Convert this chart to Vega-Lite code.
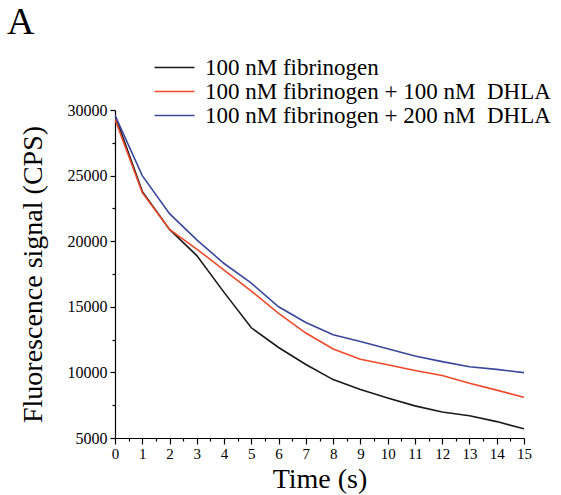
{
  "$schema": "https://vega.github.io/schema/vega-lite/v6.json",
  "autosize": "none",
  "width": 409,
  "height": 328,
  "padding": {"left": 115, "top": 110, "right": 37, "bottom": 57},
  "background": "white",
  "config": {
    "view": {"stroke": null},
    "font": "Liberation Serif"
  },
  "title": {
    "text": "A",
    "anchor": "start",
    "frame": "group",
    "orient": "top",
    "baseline": "alphabetic",
    "fontSize": 38,
    "fontWeight": "normal",
    "font": "Liberation Serif",
    "color": "#000",
    "dx": -108,
    "dy": 20
  },
  "data": {
    "values": [
      {"t": 0, "s": "100 nM fibrinogen", "v": 29600},
      {"t": 1, "s": "100 nM fibrinogen", "v": 23800},
      {"t": 2, "s": "100 nM fibrinogen", "v": 20900},
      {"t": 3, "s": "100 nM fibrinogen", "v": 18900},
      {"t": 4, "s": "100 nM fibrinogen", "v": 16100},
      {"t": 5, "s": "100 nM fibrinogen", "v": 13400},
      {"t": 6, "s": "100 nM fibrinogen", "v": 11900},
      {"t": 7, "s": "100 nM fibrinogen", "v": 10600},
      {"t": 8, "s": "100 nM fibrinogen", "v": 9450},
      {"t": 9, "s": "100 nM fibrinogen", "v": 8700},
      {"t": 10, "s": "100 nM fibrinogen", "v": 8050},
      {"t": 11, "s": "100 nM fibrinogen", "v": 7450},
      {"t": 12, "s": "100 nM fibrinogen", "v": 6980},
      {"t": 13, "s": "100 nM fibrinogen", "v": 6700},
      {"t": 14, "s": "100 nM fibrinogen", "v": 6250},
      {"t": 15, "s": "100 nM fibrinogen", "v": 5700},
      {"t": 0, "s": "100 nM fibrinogen + 100 nM\u00a0 DHLA", "v": 29300},
      {"t": 1, "s": "100 nM fibrinogen + 100 nM\u00a0 DHLA", "v": 23700},
      {"t": 2, "s": "100 nM fibrinogen + 100 nM\u00a0 DHLA", "v": 20900},
      {"t": 3, "s": "100 nM fibrinogen + 100 nM\u00a0 DHLA", "v": 19400},
      {"t": 4, "s": "100 nM fibrinogen + 100 nM\u00a0 DHLA", "v": 17800},
      {"t": 5, "s": "100 nM fibrinogen + 100 nM\u00a0 DHLA", "v": 16200},
      {"t": 6, "s": "100 nM fibrinogen + 100 nM\u00a0 DHLA", "v": 14500},
      {"t": 7, "s": "100 nM fibrinogen + 100 nM\u00a0 DHLA", "v": 13000},
      {"t": 8, "s": "100 nM fibrinogen + 100 nM\u00a0 DHLA", "v": 11780},
      {"t": 9, "s": "100 nM fibrinogen + 100 nM\u00a0 DHLA", "v": 11000},
      {"t": 10, "s": "100 nM fibrinogen + 100 nM\u00a0 DHLA", "v": 10580},
      {"t": 11, "s": "100 nM fibrinogen + 100 nM\u00a0 DHLA", "v": 10150},
      {"t": 12, "s": "100 nM fibrinogen + 100 nM\u00a0 DHLA", "v": 9760},
      {"t": 13, "s": "100 nM fibrinogen + 100 nM\u00a0 DHLA", "v": 9180},
      {"t": 14, "s": "100 nM fibrinogen + 100 nM\u00a0 DHLA", "v": 8650},
      {"t": 15, "s": "100 nM fibrinogen + 100 nM\u00a0 DHLA", "v": 8100},
      {"t": 0, "s": "100 nM fibrinogen + 200 nM\u00a0 DHLA", "v": 29600},
      {"t": 1, "s": "100 nM fibrinogen + 200 nM\u00a0 DHLA", "v": 25000},
      {"t": 2, "s": "100 nM fibrinogen + 200 nM\u00a0 DHLA", "v": 22100},
      {"t": 3, "s": "100 nM fibrinogen + 200 nM\u00a0 DHLA", "v": 20100},
      {"t": 4, "s": "100 nM fibrinogen + 200 nM\u00a0 DHLA", "v": 18300},
      {"t": 5, "s": "100 nM fibrinogen + 200 nM\u00a0 DHLA", "v": 16800},
      {"t": 6, "s": "100 nM fibrinogen + 200 nM\u00a0 DHLA", "v": 15000},
      {"t": 7, "s": "100 nM fibrinogen + 200 nM\u00a0 DHLA", "v": 13800},
      {"t": 8, "s": "100 nM fibrinogen + 200 nM\u00a0 DHLA", "v": 12870},
      {"t": 9, "s": "100 nM fibrinogen + 200 nM\u00a0 DHLA", "v": 12350},
      {"t": 10, "s": "100 nM fibrinogen + 200 nM\u00a0 DHLA", "v": 11800},
      {"t": 11, "s": "100 nM fibrinogen + 200 nM\u00a0 DHLA", "v": 11250},
      {"t": 12, "s": "100 nM fibrinogen + 200 nM\u00a0 DHLA", "v": 10820},
      {"t": 13, "s": "100 nM fibrinogen + 200 nM\u00a0 DHLA", "v": 10430},
      {"t": 14, "s": "100 nM fibrinogen + 200 nM\u00a0 DHLA", "v": 10230},
      {"t": 15, "s": "100 nM fibrinogen + 200 nM\u00a0 DHLA", "v": 9980}
    ]
  },
  "mark": {"type": "line", "strokeWidth": 1.6, "clip": true},
  "encoding": {
    "x": {
      "field": "t",
      "type": "quantitative",
      "scale": {"domain": [0, 15], "nice": false},
      "axis": {
        "title": "Time (s)",
        "titleFont": "Liberation Serif",
        "titleFontSize": 28,
        "titleFontWeight": "normal",
        "titleColor": "#000",
        "titlePadding": 4,
        "values": [0, 0.5, 1, 1.5, 2, 2.5, 3, 3.5, 4, 4.5, 5, 5.5, 6, 6.5, 7, 7.5, 8, 8.5, 9, 9.5, 10, 10.5, 11, 11.5, 12, 12.5, 13, 13.5, 14, 14.5, 15],
        "labelExpr": "datum.value % 1 === 0 ? format(datum.value, 'd') : ''",
        "labelFont": "Liberation Serif",
        "labelFontSize": 15,
        "labelColor": "#000",
        "labelPadding": 2,
        "labelFlush": false,
        "labelOverlap": false,
        "grid": false,
        "domainColor": "#000",
        "domainWidth": 1.2,
        "tickColor": "#000",
        "tickWidth": 1.2,
        "tickSize": {"condition": {"test": "datum.value % 1 === 0", "value": 6}, "value": 3}
      }
    },
    "y": {
      "field": "v",
      "type": "quantitative",
      "scale": {"domain": [5000, 30000], "nice": false, "zero": false},
      "axis": {
        "title": "Fluorescence signal (CPS)",
        "titleFont": "Liberation Serif",
        "titleFontSize": 28,
        "titleFontWeight": "normal",
        "titleColor": "#000",
        "titlePadding": 20,
        "values": [5000, 7500, 10000, 12500, 15000, 17500, 20000, 22500, 25000, 27500, 30000],
        "labelExpr": "datum.value % 5000 === 0 ? format(datum.value, 'd') : ''",
        "labelFont": "Liberation Serif",
        "labelFontSize": 16,
        "labelColor": "#000",
        "labelPadding": 3,
        "labelFlush": false,
        "labelOverlap": false,
        "grid": false,
        "domainColor": "#000",
        "domainWidth": 1.2,
        "tickColor": "#000",
        "tickWidth": 1.2,
        "tickSize": {"condition": {"test": "datum.value % 5000 === 0", "value": 5}, "value": 3}
      }
    },
    "color": {
      "field": "s",
      "type": "nominal",
      "scale": {
        "domain": ["100 nM fibrinogen", "100 nM fibrinogen + 100 nM\u00a0 DHLA", "100 nM fibrinogen + 200 nM\u00a0 DHLA"],
        "range": ["#1a1a1a", "#f0492a", "#3b479c"]
      },
      "legend": {
        "title": null,
        "orient": "none",
        "legendX": 48,
        "legendY": -54,
        "symbolType": "M-2,0H2",
        "symbolSize": 400,
        "symbolStrokeWidth": 1.6,
        "labelFont": "Liberation Serif",
        "labelFontSize": 23,
        "labelColor": "#000",
        "labelLimit": 0,
        "rowPadding": 0,
        "labelOffset": 19
      }
    }
  }
}
